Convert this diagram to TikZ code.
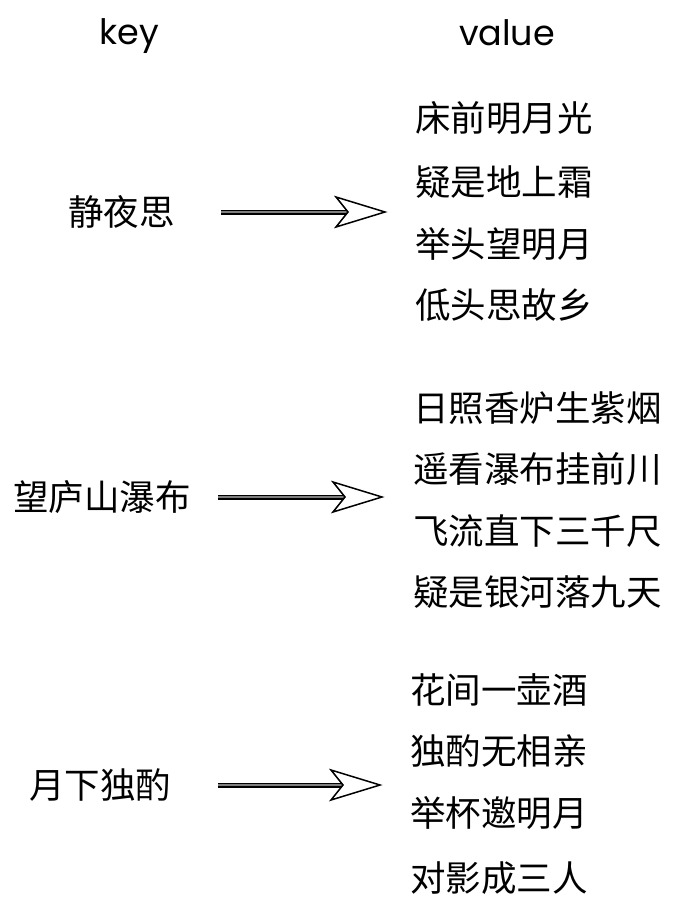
\documentclass[tikz,border=0pt]{standalone}
\usepackage{fontspec}
\newfontfamily\cjk{Noto Sans CJK SC}
\newfontfamily\latinsans{Poppins}
\begin{document}
\begin{tikzpicture}[x=1pt,y=-1pt,
  hdr/.style={font=\latinsans\fontsize{35}{35}\selectfont, inner sep=0pt},
  keytxt/.style={font=\cjk\fontsize{35.5}{35.5}\selectfont, inner sep=0pt, anchor=west},
  valtxt/.style={font=\cjk\fontsize{35.5}{35.5}\selectfont, inner sep=0pt, anchor=west},
  shaft/.style={double=gray, double distance=2pt, line width=1.5pt},
  headst/.style={line width=1.5pt, fill=white, line join=miter}]
\useasboundingbox (0,0) rectangle (694,918);
\node[hdr] (hk) at (129,36) {key};
\node[hdr] (hv) at (507,33) {value};
% group 1
\node[keytxt] (k1) at (68,212) {静夜思};
\node[valtxt] (v11) at (415,118) {床前明月光};
\node[valtxt] (v12) at (415,182) {疑是地上霜};
\node[valtxt] (v13) at (415,244) {举头望明月};
\node[valtxt] (v14) at (415,305) {低头思故乡};
% group 2
\node[keytxt] (k2) at (13,497) {望庐山瀑布};
\node[valtxt] (v21) at (413,408) {日照香炉生紫烟};
\node[valtxt] (v22) at (413,469) {遥看瀑布挂前川};
\node[valtxt] (v23) at (413,531) {飞流直下三千尺};
\node[valtxt] (v24) at (413,592) {疑是银河落九天};
% group 3
\node[keytxt] (k3) at (29,785) {月下独酌};
\node[valtxt] (v31) at (410,690) {花间一壶酒};
\node[valtxt] (v32) at (410,751) {独酌无相亲};
\node[valtxt] (v33) at (410,813) {举杯邀明月};
\node[valtxt] (v34) at (410,878) {对影成三人};
% arrows
\foreach \i/\s/\t/\y in {1/221/385/212, 2/218/382/497, 3/218/380/785}{
  \coordinate (s\i) at (\s,\y);
  \coordinate (t\i) at (\t,\y);
  \coordinate (n\i) at (\t-37,\y);
  \coordinate (b\i a) at (\t-49,\y-15);
  \coordinate (b\i b) at (\t-49,\y+15);
  \draw[shaft] (s\i) -- (n\i);
  \draw[headst] (t\i) -- (b\i a) -- (n\i) -- (b\i b) -- cycle;
}
\end{tikzpicture}
\end{document}
